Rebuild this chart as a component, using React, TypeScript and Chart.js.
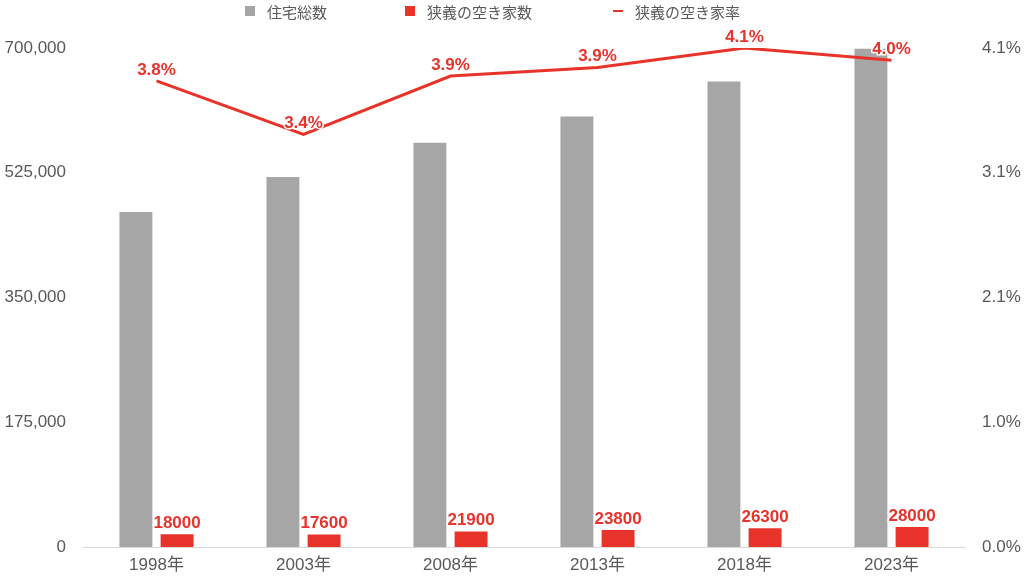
import { useEffect, useRef } from 'react';
import { Chart, registerables } from 'chart.js';

Chart.register(...registerables);

const years = ['1998年', '2003年', '2008年', '2013年', '2018年', '2023年'];
const totalHouses = [470000, 519000, 567000, 604000, 653000, 699000];
const vacantHouses = [18000, 17600, 21900, 23800, 26300, 28000];
const vacantRate = [3.83, 3.39, 3.87, 3.94, 4.1, 4.0];

const countTicks = [0, 175000, 350000, 525000, 700000];
const rateTicks = [0, 1.025, 2.05, 3.075, 4.1];
const rateTickLabels = ['0.0%', '1.0%', '2.1%', '3.1%', '4.1%'];

const GRAY = '#a6a6a6';
const RED = '#e8332a';
const TEXT = '#595959';
const FONT = '"Helvetica Neue", "Liberation Sans", Arial, "Noto Sans CJK JP", sans-serif';

const legendItems = [
  { label: '住宅総数', kind: 'box', color: GRAY, left: 245 },
  { label: '狭義の空き家数', kind: 'box', color: RED, left: 405 },
  { label: '狭義の空き家率', kind: 'line', color: RED, left: 613 },
];

// value labels above the red bars and the rate line
const valueLabels = {
  id: 'valueLabels',
  afterDatasetsDraw(chart: Chart) {
    const ctx = chart.ctx;
    ctx.save();
    ctx.font = `bold 17px ${FONT}`;
    ctx.textAlign = 'center';
    ctx.textBaseline = 'alphabetic';
    ctx.lineJoin = 'round';
    [1, 2].forEach((di) => {
      const meta = chart.getDatasetMeta(di);
      meta.data.forEach((el: any, i: number) => {
        const text = di === 1 ? String(vacantHouses[i]) : `${vacantRate[i].toFixed(1)}%`;
        const y = el.y - 6;
        ctx.strokeStyle = '#ffffff';
        ctx.lineWidth = 3;
        ctx.strokeText(text, el.x, y);
        ctx.fillStyle = RED;
        ctx.fillText(text, el.x, y);
      });
    });
    ctx.restore();
  },
};

export default function App() {
  const canvasRef = useRef<HTMLCanvasElement>(null);
  const chartRef = useRef<Chart | null>(null);

  useEffect(() => {
    if (!canvasRef.current) return;
    const ctx = canvasRef.current.getContext('2d');
    if (!ctx) return;

    if (chartRef.current) {
      chartRef.current.destroy();
    }

    const tickFont = { size: 17, family: FONT };

    chartRef.current = new Chart(ctx, {
      type: 'bar',
      data: {
        labels: years,
        datasets: [
          {
            type: 'bar',
            label: '住宅総数',
            data: totalHouses,
            backgroundColor: GRAY,
            categoryPercentage: 0.56,
            barPercentage: 0.8,
            yAxisID: 'y',
            order: 1,
          },
          {
            type: 'bar',
            label: '狭義の空き家数',
            data: vacantHouses,
            backgroundColor: RED,
            categoryPercentage: 0.56,
            barPercentage: 0.8,
            yAxisID: 'y',
            order: 1,
          },
          {
            type: 'line',
            label: '狭義の空き家率',
            data: vacantRate,
            borderColor: RED,
            backgroundColor: RED,
            borderWidth: 3,
            tension: 0,
            pointRadius: 0,
            fill: false,
            yAxisID: 'y1',
            order: 0,
          },
        ],
      },
      options: {
        responsive: true,
        maintainAspectRatio: false,
        animation: false,
        layout: { padding: { top: 48, left: 0, right: 0, bottom: 0 } },
        plugins: {
          legend: { display: false },
          tooltip: { enabled: false },
        },
        scales: {
          x: {
            grid: { display: false, drawTicks: false },
            border: { display: true, color: '#d9d9d9', width: 1 },
            ticks: { color: TEXT, font: tickFont, padding: 8 },
            afterFit: (scale: any) => {
              scale.height = 29;
            },
          },
          y: {
            position: 'left',
            min: 0,
            max: 700000,
            grid: { display: false, drawTicks: false },
            border: { display: false },
            ticks: {
              color: TEXT,
              font: tickFont,
              padding: 17,
              callback: (v: any) => Number(v).toLocaleString('en-US'),
            },
            afterBuildTicks: (scale: any) => {
              scale.ticks = countTicks.map((value) => ({ value }));
            },
            afterFit: (scale: any) => {
              scale.width = 83;
            },
          },
          y1: {
            position: 'right',
            min: 0,
            max: 4.1,
            grid: { display: false, drawTicks: false },
            border: { display: false },
            ticks: {
              color: TEXT,
              font: tickFont,
              padding: 17,
              callback: (_v: any, i: number) => rateTickLabels[i],
            },
            afterBuildTicks: (scale: any) => {
              scale.ticks = rateTicks.map((value) => ({ value }));
            },
            afterFit: (scale: any) => {
              scale.width = 59;
            },
          },
        },
      },
      plugins: [valueLabels],
    });

    return () => {
      chartRef.current?.destroy();
      chartRef.current = null;
    };
  }, []);

  return (
    <div
      style={{
        position: 'absolute',
        left: 0,
        top: 0,
        width: 1024,
        height: 576,
        background: '#ffffff',
        fontFamily: FONT,
      }}
    >
      <canvas ref={canvasRef} />
      {legendItems.map((item) => (
        <div
          key={item.label}
          style={{
            position: 'absolute',
            top: 0,
            left: item.left,
            height: 22,
            display: 'flex',
            alignItems: 'center',
            fontSize: 15,
            color: TEXT,
            whiteSpace: 'nowrap',
          }}
        >
          <span
            style={{
              display: 'inline-block',
              width: 10,
              height: item.kind === 'box' ? 10 : 2.5,
              background: item.color,
              marginRight: 12,
            }}
          />
          {item.label}
        </div>
      ))}
    </div>
  );
}
